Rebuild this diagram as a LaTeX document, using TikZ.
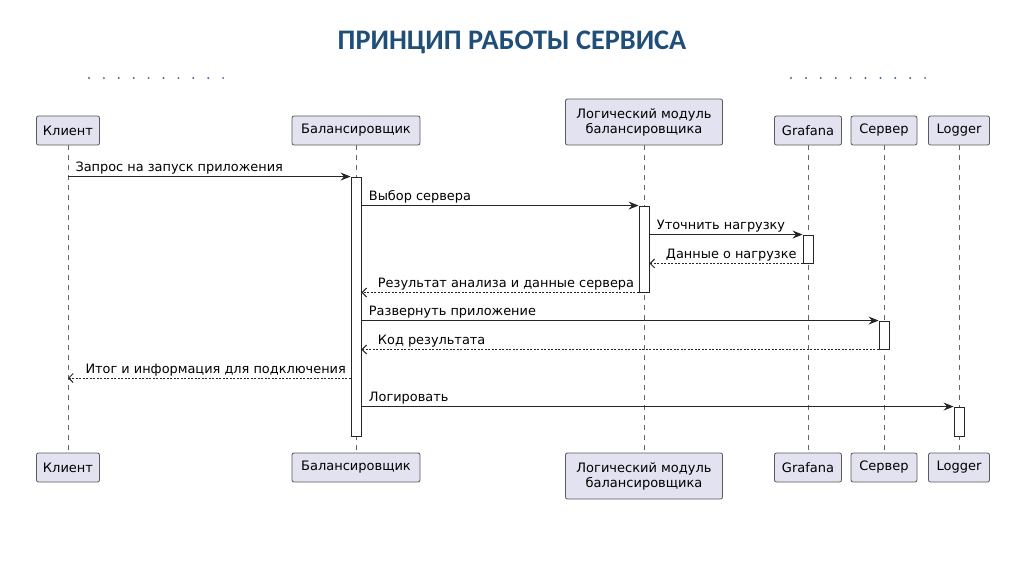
\documentclass[tikz,border=0pt]{standalone}
\usepackage{fontspec}
\setmainfont{DejaVu Sans}
\newfontfamily\titlefont{Carlito}
\usetikzlibrary{arrows.meta,calc}
\definecolor{partfill}{HTML}{E2E2F0}
\definecolor{partdraw}{HTML}{5A5A5A}
\definecolor{titleblue}{HTML}{1F4E79}
\definecolor{dotblue}{HTML}{4A6A9A}
\begin{document}
\begin{tikzpicture}[x=1pt,y=-1pt,
  part/.style={draw=partdraw,fill=partfill,rounded corners=2pt,line width=0.8pt,
    font=\fontsize{13}{15}\selectfont,align=center,inner xsep=5pt,inner ysep=0pt,
    minimum height=29pt},
  part2/.style={part,minimum height=46pt},
  life/.style={draw=gray!80!black,line width=0.5pt,dash pattern=on 5pt off 5pt},
  actbox/.style={draw=black!85,fill=white,line width=0.9pt,minimum width=10pt,inner sep=0pt},
  msg/.style={draw=black!85,line width=1pt,-{Stealth[length=10pt,width=8pt,inset=3.5pt]}},
  ret/.style={draw=black!85,line width=1pt,dash pattern=on 2pt off 1.5pt,
    -{Straight Barb[length=4.5pt,width=9pt]}},
  lbl/.style={font=\fontsize{12.9}{15}\selectfont,inner sep=0pt,anchor=base west},
  dotstyle/.style={fill=dotblue,draw=none}
]
\useasboundingbox[fill=white] (0,0) rectangle (1024,576);
% title
\node[font=\titlefont\bfseries\fontsize{28.3}{32}\selectfont,text=titleblue] (title) at (512,42) {ПРИНЦИП РАБОТЫ СЕРВИСА};
% dots
\foreach \i in {0,...,9}{
  \fill[dotstyle] (89+\i*14.9,78) circle (1.1pt);
  \fill[dotstyle] (791+\i*14.9,78) circle (1.1pt);
}
% participants top
\node[part,minimum width=63pt] (kt) at (68,130.5) {Клиент};
\node[part,minimum width=128pt] (bt) at (356,130.5) {Балансировщик};
\node[part2,minimum width=157pt] (lt) at (644,122) {Логический модуль\\балансировщика};
\node[part,minimum width=67pt] (gt) at (808,130.5) {Grafana};
\node[part,minimum width=66pt] (st) at (884,130.5) {Сервер};
\node[part,minimum width=61pt] (ot) at (959,130.5) {Logger};
% participants bottom
\node[part,minimum width=63pt] (kb) at (68,467.5) {Клиент};
\node[part,minimum width=128pt] (bb) at (356,467.5) {Балансировщик};
\node[part2,minimum width=157pt] (lb) at (644,476) {Логический модуль\\балансировщика};
\node[part,minimum width=67pt] (gb) at (808,467.5) {Grafana};
\node[part,minimum width=66pt] (sb) at (884,467.5) {Сервер};
\node[part,minimum width=61pt] (ob) at (959,467.5) {Logger};
% lifelines
\foreach \a/\b in {kt/kb,bt/bb,lt/lb,gt/gb,st/sb,ot/ob}{
  \draw[life] (\a.south) -- (\b.north);
}
% activations
\node[actbox,minimum height=259pt] (ab) at (356,306.5) {};
\node[actbox,minimum height=86pt] (al) at (644,249) {};
\node[actbox,minimum height=28pt] (ag) at (808,249) {};
\node[actbox,minimum height=28pt] (as) at (884,335) {};
\node[actbox,minimum height=29pt] (ao) at (959,421.5) {};
\coordinate (m8) at (0,378);
% messages
\draw[msg] (kt.south |- ab.north) -- (ab.north west)
  node[lbl,pos=0,xshift=7pt,yshift=5pt] {Запрос на запуск приложения};
\draw[msg] (ab.east |- al.north) -- (al.north west)
  node[lbl,pos=0,xshift=7pt,yshift=5pt] {Выбор сервера};
\draw[msg] (al.east |- ag.north) -- (ag.north west)
  node[lbl,pos=0,xshift=7pt,yshift=5pt] {Уточнить нагрузку};
\draw[ret] (ag.south west) -- (al.east |- ag.south)
  node[lbl,pos=1,xshift=16pt,yshift=5pt] {Данные о нагрузке};
\draw[ret] (al.south west) -- (ab.east |- al.south)
  node[lbl,pos=1,xshift=16pt,yshift=5pt] {Результат анализа и данные сервера};
\draw[msg] (ab.east |- as.north) -- (as.north west)
  node[lbl,pos=0,xshift=7pt,yshift=5pt] {Развернуть приложение};
\draw[ret] (as.south west) -- (ab.east |- as.south)
  node[lbl,pos=1,xshift=16pt,yshift=5pt] {Код результата};
\draw[ret] (ab.west |- m8) -- (kt.south |- m8)
  node[lbl,pos=1,xshift=17pt,yshift=5pt] {Итог и информация для подключения};
\draw[msg] (ab.east |- ao.north) -- (ao.north west)
  node[lbl,pos=0,xshift=7pt,yshift=5pt] {Логировать};
\end{tikzpicture}
\end{document}
